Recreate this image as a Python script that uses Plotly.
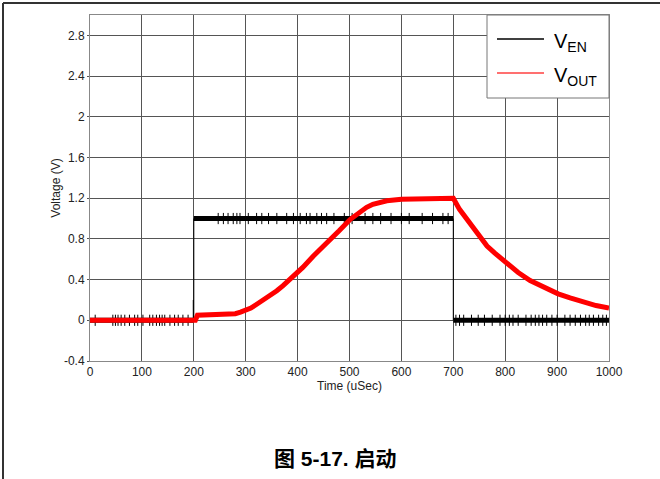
import plotly.graph_objects as go

# ---------------- data ----------------
# V_EN: enable signal, level per interval (uSec)
en_seg_start = [0, 200, 700]
en_seg_end = [199, 700, 1000]
en_seg_level = [0.0, 1.0, 0.0]
# transition glitch at turn-on
en_glitch_t = 199
en_glitch_v = 0.2

# noise spikes on V_EN (time in uSec), grouped by level
en_spike_low1 = [10, 44, 49, 54, 60, 67, 76, 86, 92, 102, 115, 121, 128, 134,
                 139, 144, 154, 163, 170, 179, 189]
en_spike_high = [247, 257, 266, 276, 283, 289, 305, 321, 331, 344, 360, 379,
                 392, 405, 417, 424, 437, 446, 456, 470, 490, 505, 530, 545,
                 560, 580, 600, 615, 640, 660, 680, 690]
en_spike_low2 = [705, 712, 720, 735, 748, 760, 775, 790, 800, 808, 815, 825,
                 840, 850, 858, 865, 872, 880, 890, 900, 915, 925, 935, 945,
                 955, 962, 970, 980, 988, 995]
spike_amp = 0.055

# V_OUT: output voltage
out_t = [0, 203, 207, 270, 280, 290, 300, 310, 322, 335, 348, 360, 372, 385,
         398, 410, 430, 445, 462, 480, 501, 520, 533, 545, 560, 572, 600, 650,
         700, 712, 725, 738, 751, 765, 780, 803, 825, 848, 875, 902, 925, 950,
         975, 1000]
out_v = [0.0, 0.0, 0.05, 0.055, 0.065, 0.08, 0.1, 0.12, 0.16, 0.2, 0.245, 0.29,
         0.34, 0.4, 0.46, 0.52, 0.63, 0.71, 0.79, 0.88, 0.99, 1.07, 1.11, 1.14,
         1.165, 1.175, 1.19, 1.2, 1.2, 1.09, 1.0, 0.9, 0.81, 0.73, 0.66, 0.56,
         0.47, 0.39, 0.32, 0.26, 0.22, 0.18, 0.145, 0.12]

x_ticks = [0, 100, 200, 300, 400, 500, 600, 700, 800, 900, 1000]
y_ticks = [-0.4, 0, 0.4, 0.8, 1.2, 1.6, 2, 2.4, 2.8]
y_tick_text = ["-0.4", "0", "0.4", "0.8", "1.2", "1.6", "2", "2.4", "2.8"]

series_names = ["V<sub>EN</sub>", "V<sub>OUT</sub>"]
series_colors = ["black", "#ff0000"]
legend_line_colors = ["black", "#ff4040"]

caption = "图 5-17. 启动"

# ---------------- figure ----------------
fig = go.Figure()

# noise spikes (thin)
sx, sy = [], []
for times, base in ((en_spike_low1, 0.0), (en_spike_high, 1.0), (en_spike_low2, 0.0)):
    for t in times:
        sx += [t, t, None]
        sy += [base - spike_amp, base + spike_amp, None]
fig.add_trace(go.Scatter(x=sx, y=sy, mode="lines", line=dict(color=series_colors[0], width=1),
                         showlegend=False, hoverinfo="skip"))

# thick horizontal levels of V_EN
hx, hy = [], []
for a, b, v in zip(en_seg_start, en_seg_end, en_seg_level):
    hx += [a, b, None]
    hy += [v, v, None]
fig.add_trace(go.Scatter(x=hx, y=hy, mode="lines", name=series_names[0],
                         line=dict(color=series_colors[0], width=5),
                         showlegend=False, hoverinfo="skip"))

# thin vertical edges of V_EN
ex, ey = [en_glitch_t, en_glitch_t, None], [en_seg_level[0], en_glitch_v, None]
for i in range(1, len(en_seg_start)):
    ex += [en_seg_start[i], en_seg_start[i], None]
    ey += [en_seg_level[i - 1], en_seg_level[i], None]
fig.add_trace(go.Scatter(x=ex, y=ey, mode="lines", line=dict(color=series_colors[0], width=1),
                         showlegend=False, hoverinfo="skip"))

# V_OUT
fig.add_trace(go.Scatter(x=out_t, y=out_v, mode="lines", name=series_names[1],
                         line=dict(color=series_colors[1], width=5),
                         showlegend=False, hoverinfo="skip"))

L, R, T, B = 90, 51, 15, 118
W, H = 660, 479
pw, ph = W - L - R, H - T - B

def px(x):
    return (x - L) / pw

def py(y):
    return (H - B - y) / ph

shapes = [
    dict(type="line", xref="paper", yref="paper",
         x0=px(3), x1=px(660), y0=py(3), y1=py(3),
         line=dict(color="#333", width=2)),
    dict(type="line", xref="paper", yref="paper",
         x0=px(3), x1=px(3), y0=py(3), y1=py(479),
         line=dict(color="#333", width=2)),
    # legend box
    dict(type="rect", xref="paper", yref="paper",
         x0=px(487), x1=px(609), y0=py(98), y1=py(15),
         fillcolor="white", line=dict(color="#777", width=1), layer="above"),
]
annotations = [
    dict(text="<b>" + caption + "</b>", xref="paper", yref="paper",
         x=px(335), y=py(458), xanchor="center", yanchor="middle", showarrow=False,
         font=dict(size=21, color="black",
                   family="Liberation Sans, Noto Sans CJK SC, sans-serif")),
]
legend_rows = [39, 73]
for name, col, yy in zip(series_names, legend_line_colors, legend_rows):
    shapes.append(dict(type="line", xref="paper", yref="paper",
                       x0=px(497), x1=px(544), y0=py(yy), y1=py(yy),
                       line=dict(color=col, width=1.5), layer="above"))
    annotations.append(dict(text=name, xref="paper", yref="paper",
                            x=px(552), y=py(yy + 3), xanchor="left", yanchor="middle",
                            showarrow=False,
                            font=dict(size=20, color="black",
                                      family="Liberation Sans, Arial, sans-serif")))

fig.update_layout(
    width=W, height=H,
    margin=dict(l=L, r=R, t=T, b=B, pad=0),
    paper_bgcolor="white", plot_bgcolor="white",
    font=dict(family="Liberation Sans, Arial, sans-serif", color="#222", size=12),
    showlegend=False,
    xaxis=dict(range=[0, 1000], tickvals=x_ticks, showgrid=True,
               gridcolor="#555", gridwidth=1, zeroline=False,
               showline=True, linecolor="#888", linewidth=1, mirror=True,
               ticks="", title=dict(text="Time (uSec)", font=dict(size=12),
                                    standoff=1),
               tickfont=dict(size=12)),
    yaxis=dict(range=[-0.4, 3.0], tickvals=y_ticks, ticktext=y_tick_text,
               showgrid=True, gridcolor="#555", gridwidth=1, zeroline=False,
               showline=True, linecolor="#888", linewidth=1, mirror=True,
               ticks="outside", ticklen=2, tickcolor="#555",
               title=dict(text="Voltage (V)", font=dict(size=12), standoff=0),
               tickfont=dict(size=12)),
    shapes=shapes,
    annotations=annotations,
)

fig.write_html("out.html", config={"displayModeBar": False},
               post_script="document.body.style.margin='0';document.body.style.overflow='hidden';")
